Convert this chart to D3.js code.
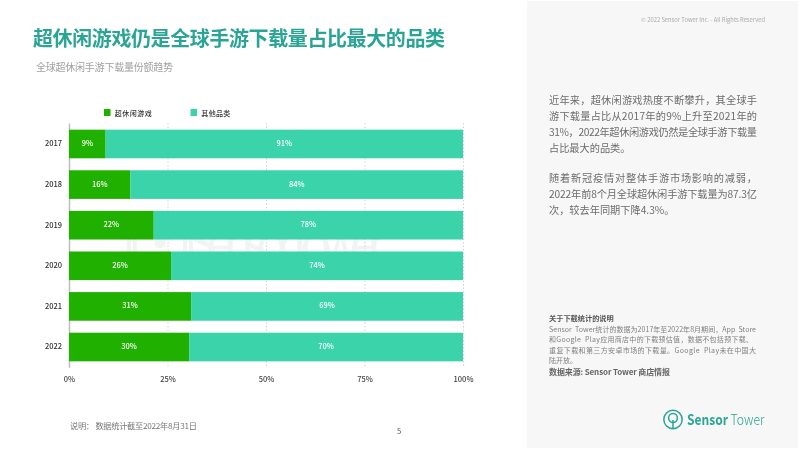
<!DOCTYPE html>
<html>
<head>
<meta charset="utf-8">
<script src="https://cdn.jsdelivr.net/npm/d3@7/dist/d3.min.js"></script>
<style>
  html, body { margin: 0; padding: 0; background: #fff; }
  svg { display: block; filter: blur(0.35px); }
  text { font-family: "Noto Sans CJK SC", "Noto Sans", sans-serif; white-space: pre; }
</style>
</head>
<body>
<svg id="chart" width="800" height="449"></svg>
<script>
const years = ['2017', '2018', '2019', '2020', '2021', '2022'];
const casualValues = [9.3, 15.6, 21.5, 25.9, 31, 30.5];
const otherValues = [90.7, 84.4, 78.5, 74.1, 69, 69.5];
const casualLabels = ['9%', '16%', '22%', '26%', '31%', '30%'];
const otherLabels = ['91%', '84%', '78%', '74%', '69%', '70%'];
const xTicks = [0, 25, 50, 75, 100];
const legendNames = ['超休闲游戏', '其他品类'];
const bodyLines = [
  ['近年来，超休闲游戏热度不断攀升，其全球手', 100],
  ['游下载量占比从2017年的9%上升至2021年的', 116],
  ['31%，2022年超休闲游戏仍然是全球手游下载量', 132],
  ['占比最大的品类。', 148],
  ['随着新冠疫情对整体手游市场影响的减弱，', 178],
  ['2022年前8个月全球超休闲手游下载量为87.3亿', 194],
  ['次，较去年同期下降4.3%。', 210]
];
const noteLines = [
  ['Sensor  Tower统计的数据为2017年至2022年8月期间，App  Store', 329, 207],
  ['和Google  Play应用商店中的下载预估值，数据不包括预下载、', 339.5, 204],
  ['重复下载和第三方安卓市场的下载量。Google  Play未在中国大', 350, 207],
  ['陆开放。', 360.5, 0]
];

const green = '#1fb000';
const teal = '#3ad3aa';

const svg = d3.select('#chart');

// right panel
svg.append('rect').attr('x', 527).attr('y', 1).attr('width', 271).attr('height', 447).attr('fill', '#f7f7f7');

// headings
svg.append('text').attr('x', 33).attr('y', 45.5).attr('font-size', 20).attr('font-weight', 700)
  .attr('fill', '#2aa595').attr('textLength', 412).text('超休闲游戏仍是全球手游下载量占比最大的品类');
svg.append('text').attr('x', 36).attr('y', 71).attr('font-size', 10).attr('fill', '#a0a0a0')
  .attr('textLength', 137).text('全球超休闲手游下载量份额趋势');

// scales
const x = d3.scaleLinear().domain([0, 100]).range([69, 463]);
const y = d3.scaleBand().domain(years).range([123.7, 367.3]).paddingInner(0.295).paddingOuter(0.147);

// watermark sits under the bars
svg.append('text').attr('x', 122).attr('y', 262).attr('font-size', 52).attr('fill', '#f3f3f3')
  .attr('font-family', 'Lato').attr('textLength', 265).text('((·)) SensorTower');

// axes
const xAxis = svg.append('g').attr('transform', 'translate(0,123)')
  .call(d3.axisBottom(x).tickValues(xTicks).tickFormat(d => d + '%').tickSize(245).tickPadding(0));
xAxis.select('.domain').remove();
xAxis.selectAll('line').attr('stroke', '#c8c8c8').attr('stroke-dasharray', '1.5 2').attr('stroke-width', 0.8);
xAxis.selectAll('text').attr('y', 256.5).attr('dy', 0).attr('font-size', 7.5).attr('font-weight', 500).attr('fill', '#444')
  .attr('dominant-baseline', 'middle');

const yAxis = svg.append('g').attr('transform', 'translate(69,0)')
  .call(d3.axisLeft(y).tickSize(0).tickPadding(7));
yAxis.select('.domain').attr('stroke', '#bdbdbd').attr('stroke-width', 1.5);
yAxis.selectAll('text').attr('font-size', 7.5).attr('font-weight', 500).attr('fill', '#333');

// bars
const rows = svg.append('g').selectAll('g').data(years).join('g');
rows.append('rect').attr('x', x(0)).attr('y', d => y(d)).attr('height', y.bandwidth())
  .attr('width', (d, i) => x(casualValues[i]) - x(0)).attr('fill', green);
rows.append('rect').attr('x', (d, i) => x(casualValues[i])).attr('y', d => y(d)).attr('height', y.bandwidth())
  .attr('width', (d, i) => x(casualValues[i] + otherValues[i]) - x(casualValues[i])).attr('fill', teal);
rows.append('text').attr('x', (d, i) => x(casualValues[i] / 2)).attr('y', d => y(d) + y.bandwidth() / 2)
  .attr('text-anchor', 'middle').attr('dominant-baseline', 'middle').attr('font-size', 7.5).attr('font-weight', 500)
  .attr('fill', '#fff').text((d, i) => casualLabels[i]);
rows.append('text').attr('x', (d, i) => x(casualValues[i] + otherValues[i] / 2)).attr('y', d => y(d) + y.bandwidth() / 2)
  .attr('text-anchor', 'middle').attr('dominant-baseline', 'middle').attr('font-size', 7.5).attr('font-weight', 500)
  .attr('fill', '#fff').text((d, i) => otherLabels[i]);

// legend
const legendX = [104, 190.5];
const legendWidths = [37, 29];
const legendColors = [green, teal];
legendNames.forEach((name, i) => {
  svg.append('rect').attr('x', legendX[i]).attr('y', 109).attr('width', 6.5).attr('height', 7).attr('fill', legendColors[i]);
  svg.append('text').attr('x', legendX[i] + 10.8).attr('y', 115.5).attr('font-size', 7).attr('font-weight', 500)
    .attr('fill', '#333').attr('textLength', legendWidths[i]).text(name);
});

// footer
svg.append('text').attr('x', 70).attr('y', 429).attr('font-size', 8.2).attr('fill', '#777')
  .attr('textLength', 127).text('说明： 数据统计截至2022年8月31日');
svg.append('text').attr('x', 397).attr('y', 434).attr('font-size', 7.5).attr('fill', '#555').text('5');

// right panel text
svg.append('text').attr('x', 765).attr('y', 22).attr('text-anchor', 'end').attr('font-size', 5.8).attr('fill', '#aaa')
  .attr('font-family', 'Open Sans').text('© 2022 Sensor Tower Inc. - All Rights Reserved');

svg.append('g').selectAll('text').data(bodyLines).join('text')
  .attr('x', 549).attr('y', d => d[1] + 3.7).attr('font-size', 10.2).attr('fill', '#6c6c6c')
  .attr('textLength', d => (d[0].length > 16 ? 208 : null)).text(d => d[0]);

svg.append('text').attr('x', 549).attr('y', 321).attr('font-size', 7.2).attr('font-weight', 700).attr('fill', '#555')
  .text('关于下载统计的说明');
svg.append('g').selectAll('text').data(noteLines).join('text')
  .attr('x', 549).attr('y', d => d[1] + 2.5).attr('font-size', 7).attr('fill', '#808080')
  .attr('textLength', d => d[2] || null).text(d => d[0]);
svg.append('text').attr('x', 549).attr('y', 375).attr('font-size', 8).attr('font-weight', 700).attr('fill', '#666')
  .attr('textLength', 121).text('数据来源: Sensor Tower 商店情报');

// logo
const logoColor = '#2aa595';
const logo = svg.append('g').attr('fill', 'none').attr('stroke', logoColor).attr('stroke-width', 1.5);
logo.append('circle').attr('cx', 673).attr('cy', 419.5).attr('r', 9.2);
logo.append('circle').attr('cx', 673).attr('cy', 418).attr('r', 4.4);
logo.append('line').attr('x1', 673).attr('x2', 673).attr('y1', 420).attr('y2', 428.5);
svg.append('text').attr('x', 687).attr('y', 425).attr('font-size', 14.5).attr('font-family', 'Lato').attr('font-weight', 700)
  .attr('fill', logoColor).attr('textLength', 41).attr('lengthAdjust', 'spacingAndGlyphs').text('Sensor');
svg.append('text').attr('x', 730.5).attr('y', 425).attr('font-size', 14.5).attr('font-family', 'Lato').attr('font-weight', 300)
  .attr('fill', logoColor).attr('textLength', 34).attr('lengthAdjust', 'spacingAndGlyphs').text('Tower');
</script>
</body>
</html>
